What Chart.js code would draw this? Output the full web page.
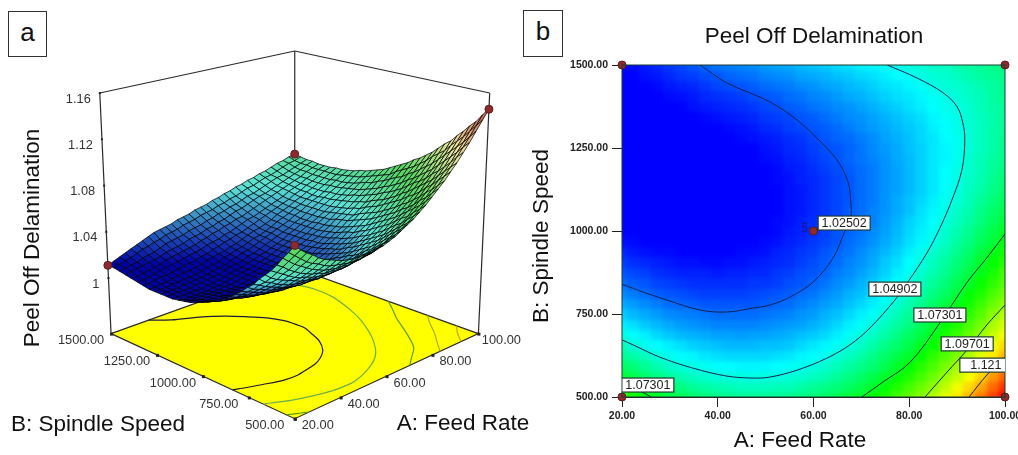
<!DOCTYPE html>
<html>
<head>
<meta charset="utf-8">
<title>Peel Off Delamination</title>
<script src="https://cdn.jsdelivr.net/npm/chart.js@4"></script>
<style>
  body { margin: 0; background: #fff; overflow: hidden; font-family: "Liberation Sans", Arial, sans-serif; }
  #wrap { position: relative; width: 1018px; height: 455px; }
  canvas { position: absolute; top: 0; }
  #surfaceChart { left: 0; }
  #contourChart { left: 520px; }
  .tag { position: absolute; box-sizing: border-box; border: 1px solid #333; font-size: 26px; line-height: 40px; text-align: center; color: #111; background: #fff; }
</style>
</head>
<body>
<div id="wrap">
  <canvas id="surfaceChart" width="560" height="455"></canvas>
  <canvas id="contourChart" width="498" height="455"></canvas>
  <div class="tag" style="left:8px;top:11px;width:39px;height:46px">a</div>
  <div class="tag" style="left:523px;top:10px;width:40px;height:47px">b</div>
</div>
<script>
var feedRate = [20,22.5,25,27.5,30,32.5,35,37.5,40,42.5,45,47.5,50,52.5,55,57.5,60,62.5,65,67.5,70,72.5,75,77.5,80,82.5,85,87.5,90,92.5,95,97.5,100];
var spindleSpeed = [500,531.25,562.5,593.75,625,656.25,687.5,718.75,750,781.25,812.5,843.75,875,906.25,937.5,968.75,1000,1031.25,1062.5,1093.75,1125,1156.25,1187.5,1218.75,1250,1281.25,1312.5,1343.75,1375,1406.25,1437.5,1468.75,1500];
// peel off delamination x 1000, one row per spindle speed, one column per feed rate
var delamination = [
[1085,1080,1076,1073,1069,1066,1064,1062,1060,1059,1058,1058,1058,1058,1059,1060,1062,1064,1067,1070,1073,1077,1081,1086,1091,1096,1102,1108,1115,1122,1130,1138,1146],
[1078,1074,1070,1066,1063,1061,1058,1056,1055,1054,1053,1053,1053,1054,1054,1056,1058,1060,1062,1065,1068,1072,1076,1081,1086,1091,1097,1103,1110,1117,1124,1132,1140],
[1072,1068,1064,1061,1058,1055,1053,1051,1050,1049,1049,1048,1049,1049,1050,1051,1053,1055,1058,1061,1064,1068,1072,1076,1081,1086,1092,1098,1104,1111,1118,1126,1133],
[1065,1062,1058,1055,1052,1050,1048,1047,1045,1045,1044,1044,1044,1045,1046,1047,1049,1051,1054,1057,1060,1063,1067,1072,1077,1082,1087,1093,1099,1106,1113,1120,1128],
[1059,1056,1053,1050,1047,1045,1044,1042,1041,1040,1040,1040,1040,1041,1042,1044,1045,1047,1050,1053,1056,1060,1064,1068,1072,1077,1083,1088,1094,1101,1108,1115,1122],
[1054,1050,1047,1045,1043,1041,1039,1038,1037,1036,1036,1036,1037,1037,1038,1040,1042,1044,1046,1049,1052,1056,1060,1064,1068,1073,1078,1084,1090,1096,1103,1110,1117],
[1049,1045,1043,1040,1038,1036,1035,1034,1033,1033,1032,1033,1033,1034,1035,1037,1038,1040,1043,1046,1049,1052,1056,1060,1065,1069,1074,1080,1085,1091,1098,1104,1111],
[1043,1041,1038,1036,1034,1032,1031,1030,1029,1029,1029,1029,1030,1031,1032,1033,1035,1037,1040,1043,1046,1049,1053,1057,1061,1066,1071,1076,1081,1087,1093,1100,1107],
[1039,1036,1034,1032,1030,1029,1028,1027,1026,1026,1026,1026,1027,1028,1029,1031,1032,1035,1037,1040,1043,1046,1050,1054,1058,1062,1067,1072,1078,1083,1089,1096,1102],
[1034,1032,1030,1028,1026,1025,1024,1023,1023,1023,1023,1023,1024,1025,1026,1028,1030,1032,1034,1037,1040,1043,1047,1051,1055,1059,1064,1069,1074,1079,1085,1091,1097],
[1030,1028,1026,1024,1023,1022,1021,1020,1020,1020,1020,1021,1022,1023,1024,1026,1027,1030,1032,1035,1037,1041,1044,1048,1052,1056,1061,1065,1070,1076,1081,1087,1093],
[1026,1024,1023,1021,1020,1019,1018,1018,1018,1018,1018,1019,1019,1020,1022,1023,1025,1027,1030,1032,1035,1038,1042,1045,1049,1053,1058,1062,1067,1072,1078,1083,1089],
[1023,1021,1020,1018,1017,1016,1016,1016,1015,1016,1016,1017,1017,1019,1020,1022,1023,1025,1028,1030,1033,1036,1039,1043,1047,1051,1055,1059,1064,1069,1074,1080,1086],
[1020,1018,1017,1016,1015,1014,1014,1013,1013,1014,1014,1015,1016,1017,1018,1020,1022,1024,1026,1029,1031,1034,1038,1041,1045,1049,1053,1057,1062,1066,1072,1077,1082],
[1017,1015,1014,1013,1013,1012,1012,1012,1012,1012,1013,1013,1014,1016,1017,1019,1020,1023,1025,1027,1030,1033,1036,1039,1043,1047,1051,1055,1059,1064,1069,1074,1079],
[1014,1013,1012,1011,1011,1010,1010,1010,1010,1011,1011,1012,1013,1014,1016,1017,1019,1021,1023,1026,1028,1031,1034,1037,1041,1044,1048,1052,1057,1061,1066,1070,1076],
[1012,1011,1010,1009,1009,1009,1009,1009,1009,1010,1010,1011,1012,1013,1015,1016,1018,1020,1023,1025,1027,1030,1033,1036,1040,1043,1047,1051,1055,1059,1064,1068,1073],
[1010,1009,1008,1008,1008,1007,1008,1008,1008,1009,1009,1010,1012,1013,1014,1016,1018,1020,1022,1024,1027,1029,1032,1035,1039,1042,1045,1049,1053,1057,1061,1066,1070],
[1008,1008,1007,1007,1007,1007,1007,1007,1007,1008,1009,1010,1011,1012,1014,1015,1017,1019,1021,1024,1026,1029,1031,1034,1037,1041,1044,1048,1052,1055,1060,1064,1068],
[1007,1006,1006,1006,1006,1006,1006,1007,1007,1008,1009,1010,1011,1012,1014,1015,1017,1019,1021,1023,1026,1028,1031,1034,1037,1040,1043,1047,1050,1054,1058,1062,1066],
[1006,1005,1005,1005,1005,1005,1006,1006,1007,1008,1009,1010,1011,1012,1014,1015,1017,1019,1021,1023,1026,1028,1031,1033,1036,1039,1042,1046,1049,1053,1056,1060,1064],
[1005,1005,1005,1005,1005,1005,1006,1006,1007,1008,1009,1010,1011,1013,1014,1016,1017,1019,1021,1023,1026,1028,1031,1033,1036,1039,1042,1045,1048,1052,1055,1059,1063],
[1005,1005,1005,1005,1005,1006,1006,1007,1008,1008,1010,1011,1012,1013,1015,1016,1018,1020,1022,1024,1026,1028,1031,1033,1036,1039,1042,1045,1048,1051,1054,1058,1061],
[1005,1005,1005,1005,1006,1006,1007,1007,1008,1009,1010,1011,1013,1014,1016,1017,1019,1021,1023,1025,1027,1029,1031,1034,1036,1039,1042,1044,1047,1051,1054,1057,1060],
[1005,1005,1005,1006,1006,1007,1007,1008,1009,1010,1011,1012,1014,1015,1017,1018,1020,1022,1023,1025,1027,1030,1032,1034,1037,1039,1042,1044,1047,1050,1053,1056,1059],
[1005,1005,1006,1006,1007,1008,1009,1009,1010,1011,1013,1014,1015,1016,1018,1019,1021,1023,1025,1026,1028,1030,1033,1035,1037,1040,1042,1045,1047,1050,1053,1056,1059],
[1006,1006,1007,1008,1008,1009,1010,1011,1012,1013,1014,1015,1017,1018,1020,1021,1023,1024,1026,1028,1030,1032,1034,1036,1038,1040,1043,1045,1048,1050,1053,1056,1058],
[1007,1007,1008,1009,1010,1011,1012,1013,1014,1015,1016,1017,1019,1020,1021,1023,1024,1026,1028,1030,1031,1033,1035,1037,1039,1041,1044,1046,1048,1051,1053,1056,1058],
[1008,1008,1009,1010,1011,1012,1014,1015,1016,1017,1018,1019,1021,1022,1024,1025,1027,1028,1030,1031,1033,1035,1037,1039,1041,1043,1045,1047,1049,1051,1054,1056,1058],
[1009,1010,1011,1012,1013,1014,1015,1017,1018,1019,1020,1022,1023,1024,1026,1027,1029,1030,1032,1034,1035,1037,1039,1041,1042,1044,1046,1048,1050,1052,1054,1057,1059],
[1010,1011,1012,1013,1015,1016,1017,1019,1021,1022,1023,1024,1026,1027,1028,1030,1031,1033,1034,1036,1037,1039,1041,1042,1044,1046,1048,1050,1051,1053,1055,1057,1059],
[1011,1012,1014,1015,1017,1019,1020,1022,1023,1025,1026,1027,1029,1030,1031,1033,1034,1035,1037,1038,1040,1041,1043,1045,1046,1048,1050,1051,1053,1055,1057,1058,1060],
[1011,1013,1015,1017,1019,1021,1023,1025,1027,1028,1029,1030,1032,1033,1034,1036,1037,1038,1040,1041,1043,1044,1046,1047,1049,1050,1052,1053,1055,1057,1058,1060,1061]
];

// contour lines, [feed rate, spindle speed]
var contour1025 = [[36.3,1500],[41.9,1446],[50.9,1389],[56.6,1334],[60.7,1280],[64.9,1214],[67.2,1148],[67.8,1084],[67.8,1042],[66.4,994],[64.1,919],[59.9,846],[55.1,801],[50.9,777],[47.4,768],[41.9,756],[36.3,762],[29.4,792],[24.4,816],[20,840]];
var contour1049 = [[75.4,1500],[81.6,1461],[87.1,1416],[90,1374],[91.2,1325],[91.6,1274],[91,1184],[88.9,1093],[86.4,1009],[83.7,934],[79.7,846],[77,792],[71.8,708],[67.6,657],[62.8,617],[56.6,581],[50.9,560],[47.4,557],[41.9,563],[34.8,587],[27.9,620],[22.3,657],[20,672]];
var contour1073 = [[70.1,500],[74.5,545],[80.2,605],[86.4,723],[92.1,846],[96.2,919],[100,991]];
var contour1073b = [[26.1,500],[24.2,515],[20,545]];
var contour1097 = [[83.3,500],[87.9,575],[92.1,642],[96.2,717],[100,777]];
var contour1121 = [[92.5,500],[96.2,566],[100,620]];

var labelTexts = ["1.02502","1.04902","1.07301","1.09701","1.121","1.07301"];
var labelFeed = [66.4,77,86.4,92.1,96,25.4];
var labelSpeed = [1024,825,747,660,596,536];

var designFeed = [20,100,20,100,60];
var designSpeed = [500,500,1500,1500,1000];
var feedTicks = [20,40,60,80,100];
var speedTicks = [500,750,1000,1250,1500];
var zTicks = [1,1.04,1.08,1.12,1.16];

var zFloor = 0.952;
var zTop = 1.16;
var colorLevels = [1.012,1.045,1.077,1.112,1.146];
var heatColors = [[0,0,255],[0,255,255],[0,255,0],[255,255,0],[255,0,0]];
var meshColors = [[0,0,165],[90,225,215],[85,215,95],[240,232,160],[190,70,60]];
var font = '"Liberation Sans", Arial, sans-serif';

function levelColor(z, colors) {
  if (z <= colorLevels[0]) return "rgb(" + colors[0].join(",") + ")";
  for (var i = 1; i < colorLevels.length; i++) {
    if (z <= colorLevels[i]) {
      var t = (z - colorLevels[i - 1]) / (colorLevels[i] - colorLevels[i - 1]);
      var c0 = colors[i - 1], c1 = colors[i];
      return "rgb(" + Math.round(c0[0] + (c1[0] - c0[0]) * t) + "," + Math.round(c0[1] + (c1[1] - c0[1]) * t) + "," + Math.round(c0[2] + (c1[2] - c0[2]) * t) + ")";
    }
  }
  return "rgb(" + colors[4].join(",") + ")";
}

// view of the 3D box: blend between the floor and the lid of the box, gives chart units
function project(a, b, z) {
  var x = (a - 60) / 40, y = (b - 1000) / 500;
  var t = (z - zFloor) / (zTop - zFloor);
  var floorY = 340.9 - 38.6 * (x + y) + 4.9 * x * y;
  var lidY = 93.25 - 24.75 * (x + y) + 3.25 * x * y;
  return { x: 295 + ((x - y) / 2) * (187 + 11.5 * t), y: floorY + (lidY - floorY) * t };
}

function drawText(ctx, str, x, y, size, color, align, rot) {
  ctx.save();
  ctx.translate(x, y);
  if (rot) ctx.rotate(rot);
  ctx.font = size + "px " + font;
  ctx.fillStyle = color;
  ctx.textAlign = align || "center";
  ctx.textBaseline = "middle";
  ctx.fillText(str, 0, 0);
  ctx.restore();
}

function floorLine(list, color) {
  return {
    data: list.map(function (p) { return project(p[0], p[1], zFloor); }),
    showLine: true, tension: 0.3, pointRadius: 0, borderWidth: 1.2, borderColor: color,
  };
}

function edge(a0, b0, z0, a1, b1, z1) {
  return {
    data: [project(a0, b0, z0), project(a1, b1, z1)],
    showLine: true, pointRadius: 0, borderWidth: 1.2, borderColor: "#2b2b2b",
  };
}

var surfacePlugin = {
  id: "surfacePlugin",
  beforeDatasetDraw: function (chart, args) {
    if (args.index !== 0) return;
    var ctx = chart.ctx, sx = chart.scales.x, sy = chart.scales.y;
    var cells = [];
    for (var j = 0; j < spindleSpeed.length - 1; j++) {
      for (var i = 0; i < feedRate.length - 1; i++) cells.push([i, j]);
    }
    cells.sort(function (p, q) { return q[0] + q[1] - (p[0] + p[1]); });
    ctx.save();
    ctx.lineWidth = 0.8;
    ctx.strokeStyle = "rgba(0,0,0,0.9)";
    cells.forEach(function (c) {
      var i = c[0], j = c[1];
      var corners = [[i, j], [i + 1, j], [i + 1, j + 1], [i, j + 1]];
      var sum = 0;
      ctx.beginPath();
      corners.forEach(function (k, n) {
        var z = delamination[k[1]][k[0]] / 1000;
        sum += z;
        var p = project(feedRate[k[0]], spindleSpeed[k[1]], z);
        var px = sx.getPixelForValue(p.x), py = sy.getPixelForValue(p.y);
        if (n == 0) ctx.moveTo(px, py);
        else ctx.lineTo(px, py);
      });
      ctx.closePath();
      ctx.fillStyle = levelColor(sum / 4, meshColors);
      ctx.fill();
      ctx.stroke();
    });
    ctx.restore();
  },
  afterDraw: function (chart) {
    var ctx = chart.ctx, sx = chart.scales.x, sy = chart.scales.y;
    function at(a, b, z) {
      var p = project(a, b, z);
      return { x: sx.getPixelForValue(p.x), y: sy.getPixelForValue(p.y) };
    }
    ctx.fillStyle = "#222";
    zTicks.forEach(function (z) {
      var p = at(20, 1500, z);
      ctx.fillRect(p.x - 1, p.y - 1, 2, 2);
      drawText(ctx, String(z), p.x - 9, p.y + 6, 12.8, "#333", "right");
    });
    speedTicks.forEach(function (b) {
      var p = at(20, b, zFloor);
      ctx.fillRect(p.x - 1, p.y - 1, 3, 3);
      drawText(ctx, b.toFixed(2), p.x - 30, p.y + 7, 12.8, "#333");
    });
    feedTicks.forEach(function (a) {
      var p = at(a, 500, zFloor);
      ctx.fillRect(p.x - 1, p.y - 1, 3, 3);
      drawText(ctx, a.toFixed(2), p.x + 23, p.y + 7, 12.8, "#333");
    });
    drawText(ctx, "Peel Off Delamination", 33, 238, 22.5, "#111", "center", -Math.PI / 2);
    drawText(ctx, "B: Spindle Speed", 98, 425, 22.5, "#111");
    drawText(ctx, "A: Feed Rate", 463, 424, 22.5, "#111");
  },
};

var heatPlugin = {
  id: "heatPlugin",
  beforeDatasetsDraw: function (chart) {
    var ctx = chart.ctx, sx = chart.scales.x, sy = chart.scales.y, area = chart.chartArea;
    var m = 10;
    var off = document.createElement("canvas");
    off.width = area.right - area.left + 2 * m;
    off.height = area.bottom - area.top + 2 * m;
    var oc = off.getContext("2d");
    spindleSpeed.forEach(function (b, j) {
      feedRate.forEach(function (a, i) {
        var x0 = Math.floor(sx.getPixelForValue(a - 1.25));
        var x1 = Math.ceil(sx.getPixelForValue(a + 1.25));
        var y0 = Math.floor(sy.getPixelForValue(b + 15.625));
        var y1 = Math.ceil(sy.getPixelForValue(b - 15.625));
        // edge cells run on past the frame so the soft edge stays inside the plot
        if (i == 0) x0 -= m;
        if (i == feedRate.length - 1) x1 += m;
        if (j == 0) y1 += m;
        if (j == spindleSpeed.length - 1) y0 -= m;
        oc.fillStyle = levelColor(delamination[j][i] / 1000, heatColors);
        oc.fillRect(x0 - area.left + m, y0 - area.top + m, x1 - x0, y1 - y0);
      });
    });
    ctx.save();
    ctx.beginPath();
    ctx.rect(area.left, area.top, area.right - area.left, area.bottom - area.top);
    ctx.clip();
    ctx.filter = "blur(2.5px)";
    ctx.drawImage(off, area.left - m, area.top - m);
    ctx.restore();
  },
  afterDatasetsDraw: function (chart) {
    var ctx = chart.ctx, sx = chart.scales.x, sy = chart.scales.y, area = chart.chartArea;
    ctx.save();
    ctx.strokeStyle = "#1d3a30";
    ctx.lineWidth = 1;
    ctx.strokeRect(area.left, area.top, area.right - area.left, area.bottom - area.top);
    ctx.beginPath();
    ctx.rect(area.left, area.top, area.right - area.left, area.bottom - area.top);
    ctx.clip();
    labelTexts.forEach(function (t, i) {
      var px = sx.getPixelForValue(labelFeed[i]), py = sy.getPixelForValue(labelSpeed[i]);
      ctx.fillStyle = "#fff";
      ctx.strokeStyle = "#1d3a30";
      ctx.lineWidth = 1.2;
      ctx.fillRect(px - 26, py - 7, 52, 14);
      ctx.strokeRect(px - 26, py - 7, 52, 14);
      drawText(ctx, t, px, py + 0.5, 12.5, "#222");
    });
    ctx.restore();
    drawText(ctx, "5", sx.getPixelForValue(60) - 9, sy.getPixelForValue(1000) - 2, 12, "#17178f");
    drawText(ctx, "Peel Off Delamination", 294, 37, 22.5, "#111");
    drawText(ctx, "A: Feed Rate", 280, 441, 22.5, "#111");
    drawText(ctx, "B: Spindle Speed", 22, 236, 22.5, "#111", "center", -Math.PI / 2);
  },
};

function baseOptions() {
  return { responsive: false, animation: false, events: [], plugins: { legend: { display: false }, tooltip: { enabled: false } } };
}

var designPoints3d = designFeed.slice(0, 4).map(function (a, i) {
  var b = designSpeed[i];
  return project(a, b, delamination[spindleSpeed.indexOf(b)][feedRate.indexOf(a)] / 1000);
});

var surfaceOptions = baseOptions();
surfaceOptions.layout = { padding: 0 };
surfaceOptions.scales = {
  x: { type: "linear", min: 0, max: 560, display: false },
  y: { type: "linear", min: 0, max: 455, reverse: true, display: false },
};

new Chart(document.getElementById("surfaceChart"), {
  type: "scatter",
  plugins: [surfacePlugin],
  data: {
    datasets: [
      { data: designPoints3d, pointRadius: 4, backgroundColor: "#8c2a2e", borderColor: "#5e1a1c", borderWidth: 1, clip: false },
      floorLine(contour1121, "#d0a010"),
      floorLine(contour1097, "#a8a818"),
      floorLine(contour1073, "#5f9a2a"),
      floorLine(contour1073b, "#5f9a2a"),
      floorLine(contour1049, "#6cb04c"),
      floorLine(contour1025, "#1c1c3a"),
      {
        data: [project(20, 1500, zFloor), project(20, 500, zFloor), project(100, 500, zFloor), project(100, 1500, zFloor), project(20, 1500, zFloor)],
        showLine: true, fill: "shape", backgroundColor: "#ffff00", pointRadius: 0, borderWidth: 1.2, borderColor: "#2b2b2b",
      },
      edge(20, 1500, zFloor, 20, 1500, zTop),
      edge(100, 500, zFloor, 100, 500, zTop),
      edge(100, 1500, zFloor, 100, 1500, zTop),
      edge(20, 1500, zTop, 100, 1500, zTop),
      edge(100, 1500, zTop, 100, 500, zTop),
    ],
  },
  options: surfaceOptions,
});

var contourOptions = baseOptions();
contourOptions.layout = { padding: { top: 65, right: 13, left: 0, bottom: 0 } };
contourOptions.scales = {
  x: {
    type: "linear", min: 20, max: 100,
    afterBuildTicks: function (s) { s.ticks = feedTicks.map(function (v) { return { value: v }; }); },
    afterFit: function (s) { s.height = 58; s.paddingLeft = 0; s.paddingRight = 0; },
    grid: { drawOnChartArea: false, tickLength: 10, color: "#222" },
    border: { color: "#222" },
    ticks: { maxRotation: 0, padding: 3, color: "#222", font: { size: 10.5, weight: "bold", family: font }, callback: function (v) { return Number(v).toFixed(2); } },
  },
  y: {
    type: "linear", min: 500, max: 1500,
    afterBuildTicks: function (s) { s.ticks = speedTicks.map(function (v) { return { value: v }; }); },
    afterFit: function (s) { s.width = 102; s.paddingTop = 0; s.paddingBottom = 0; },
    grid: { drawOnChartArea: false, tickLength: 10, color: "#222" },
    border: { color: "#222" },
    ticks: { padding: 4, color: "#222", font: { size: 10.5, weight: "bold", family: font }, callback: function (v) { return Number(v).toFixed(2); } },
  },
};

function contourSet(list) {
  return {
    data: list.map(function (p) { return { x: p[0], y: p[1] }; }),
    showLine: true, tension: 0.35, pointRadius: 0, borderWidth: 1, borderColor: "#0e2350",
  };
}

new Chart(document.getElementById("contourChart"), {
  type: "scatter",
  plugins: [heatPlugin],
  data: {
    datasets: [
      {
        data: designFeed.map(function (a, i) { return { x: a, y: designSpeed[i] }; }),
        pointRadius: 4, backgroundColor: "#8c2a2e", borderColor: "#5e1a1c", borderWidth: 1, clip: false,
      },
      contourSet(contour1025),
      contourSet(contour1049),
      contourSet(contour1073),
      contourSet(contour1073b),
      contourSet(contour1097),
      contourSet(contour1121),
    ],
  },
  options: contourOptions,
});
</script>
</body>
</html>
